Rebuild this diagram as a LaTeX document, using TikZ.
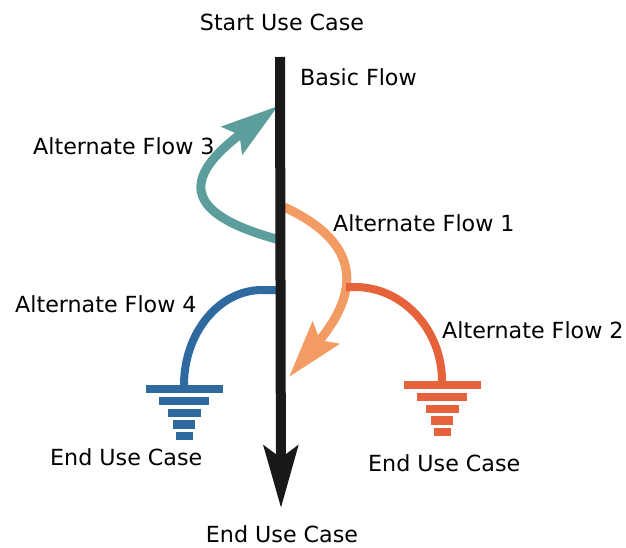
\documentclass[tikz,border=0pt]{standalone}
\usepackage{fontspec}
\setmainfont{DejaVu Sans}
\usetikzlibrary{arrows.meta}
\definecolor{tealflow}{HTML}{5B9E9B}
\definecolor{lightflow}{HTML}{F29B62}
\definecolor{darkflow}{HTML}{E6623A}
\definecolor{blueflow}{HTML}{2E69A0}
\tikzset{
    flowtext/.style={
           font=\fontsize{22.2}{24}\selectfont,
           inner sep=0pt,
           text=black
           },
    basic/.style={
           line width=10pt,
           draw=black!90,
           -{Stealth[length=62pt,width=34pt,inset=12pt]}
           },
    alt/.style={
           line width=9pt,
           -{Stealth[length=57pt,width=34pt,inset=9pt]}
           },
    stop/.style={
           line width=8pt
           },
    ground/.pic={
           \fill[pic actions] (-38.5,-0.5) rectangle (38.5,8);
           \fill[pic actions] (-25,11.7) rectangle (25,20.2);
           \fill[pic actions] (-16.5,23.7) rectangle (16.5,32.2);
           \fill[pic actions] (-11,35.2) rectangle (11,43.7);
           \fill[pic actions] (-8.5,46.7) rectangle (8.5,55.2);
           },
}
\begin{document}
\begin{tikzpicture}[x=1pt,y=-1pt]
             \useasboundingbox (0,0) rectangle (626,548);

             \node[flowtext, anchor=base] (START) at (282,31) {Start Use Case};
             \node[flowtext, anchor=base] (END) at (282,542) {End Use Case};
             \node[flowtext, anchor=base west] (BASIC) at (300,86) {Basic Flow};
             \node[flowtext, anchor=base west] (ALT3) at (33,155) {Alternate Flow 3};
             \node[flowtext, anchor=base west] (ALT1) at (333,231) {Alternate Flow 1};
             \node[flowtext, anchor=base west] (ALT4) at (15,312) {Alternate Flow 4};
             \node[flowtext, anchor=base west] (ALT2) at (442,338) {Alternate Flow 2};
             \node[flowtext, anchor=base west] (END4) at (50,465) {End Use Case};
             \node[flowtext, anchor=base west] (END2) at (368,471) {End Use Case};

             % points on the basic flow
             \coordinate (TOP) at (280,57);
             \coordinate (TIP) at (281,508);
             \coordinate (OUT3) at (280,240);
             \coordinate (IN3) at (278,106);
             \coordinate (OUT1) at (284,207);
             \coordinate (IN1) at (289,377);
             \coordinate (OUT4) at (280,290);
             \coordinate (OUT2) at (346,287);
             \coordinate (GND4) at (184,385);
             \coordinate (GND2) at (442,381);

             \draw[alt, draw=tealflow]
                (OUT3) .. controls (182,214) and (182,178) .. (IN3);
             \draw[alt, draw=lightflow]
                (OUT1) .. controls (362,243) and (360,292) .. (IN1);
             \draw[stop, draw=blueflow]
                (OUT4) -- (262,290) .. controls (219,290) and (184,333) .. (GND4);
             \draw[stop, draw=darkflow]
                (OUT2) -- (355,287) .. controls (403,287) and (442,330) .. (GND2);
             \draw[basic] (TOP) -- (TIP);

             \pic[fill=blueflow] at (GND4) {ground};
             \pic[fill=darkflow] at (GND2) {ground};

\end{tikzpicture}
\end{document}
